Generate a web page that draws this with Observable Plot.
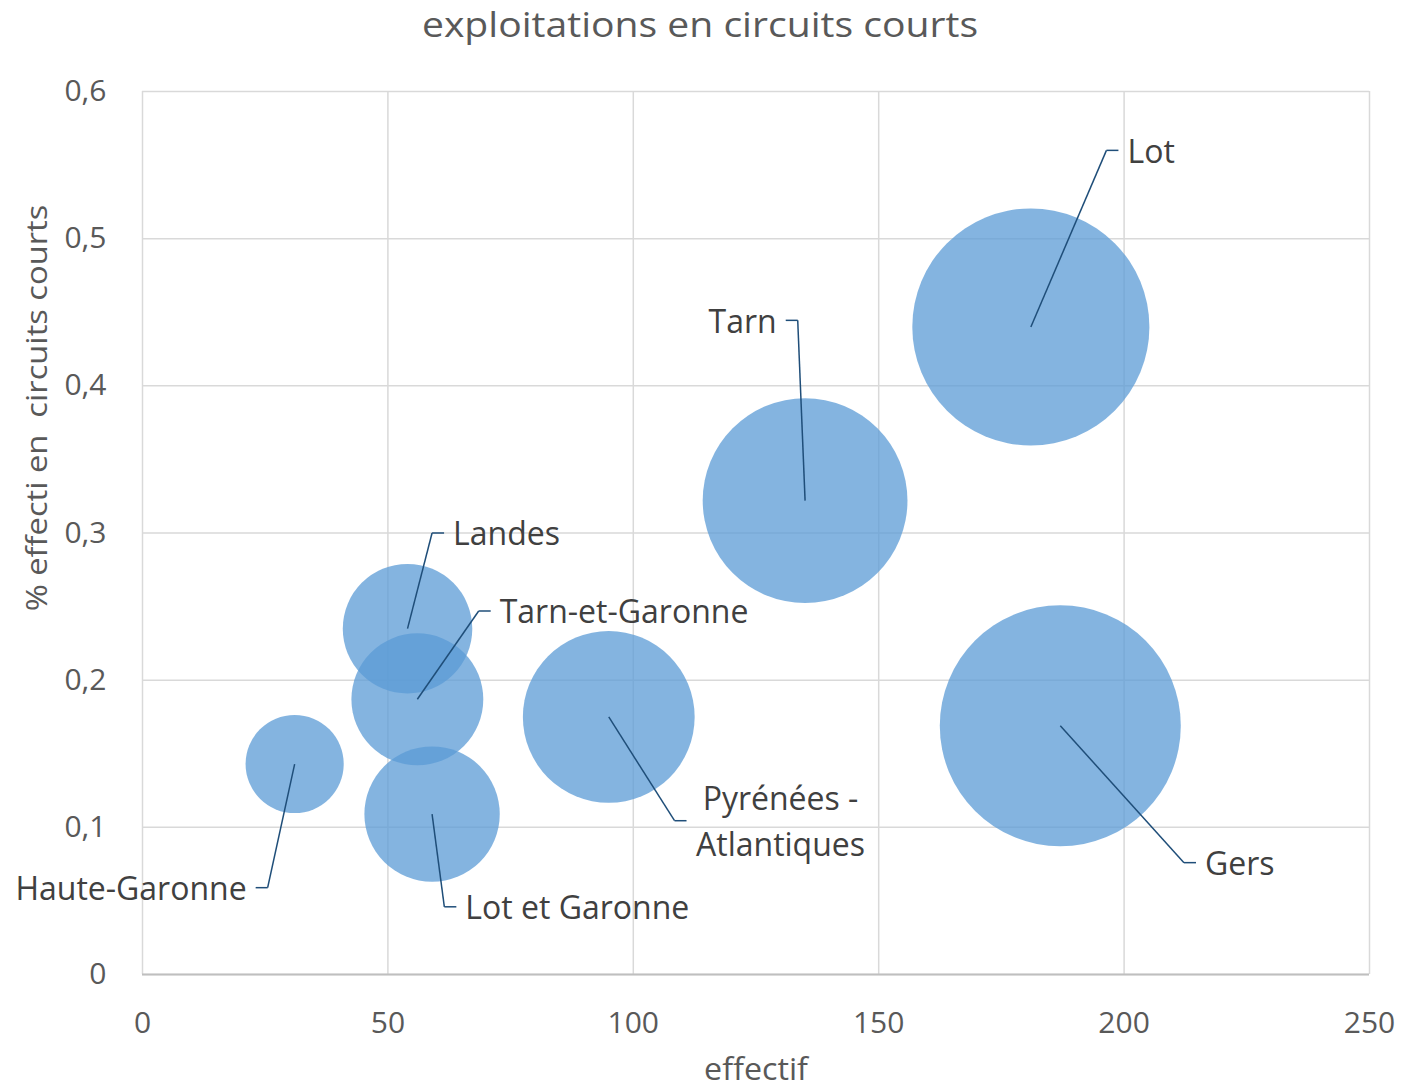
<!DOCTYPE html>
<html><head><meta charset="utf-8">
<script src="https://cdn.jsdelivr.net/npm/d3@7"></script>
<script src="https://cdn.jsdelivr.net/npm/@observablehq/plot@0.6"></script>
<style>
html,body{margin:0;padding:0;background:#fff;overflow:hidden;}
#wrap{position:relative;width:1402px;height:1091px;font-family:"Open Sans",sans-serif;overflow:hidden;}
.t{position:absolute;white-space:pre;color:#595959;}
</style></head><body>
<div id="wrap"></div>
<script>
// ---- données ----
const titre = "exploitations en circuits courts";
const titreX = "effectif";
const titreY = "% effecti en  circuits courts";
const departements = ["Haute-Garonne", "Landes", "Tarn-et-Garonne", "Lot et Garonne", "Pyrénées -\nAtlantiques", "Tarn", "Lot", "Gers"];
const effectif = [31, 54, 56, 59, 95, 135, 181, 187];
const partCircuitsCourts = [0.143, 0.235, 0.187, 0.109, 0.175, 0.322, 0.44, 0.169];
// coin de la ligne de rappel de chaque étiquette (unités des données)
const etiquetteX = [25.5, 59.0, 68.5, 61.5, 108.4, 133.5, 196.4, 212.2];
const etiquetteY = [0.059, 0.300, 0.247, 0.046, 0.1045, 0.4445, 0.560, 0.076];
const etiquetteAncrage = ["end", "start", "start", "start", "middle", "end", "start", "start"];
const xTicks = [0, 50, 100, 150, 200, 250];
const yTicks = [0, 0.1, 0.2, 0.3, 0.4, 0.5, 0.6];

const data = departements.map((nom, i) => ({
  nom, effectif: effectif[i], part: partCircuitsCourts[i],
  lx: etiquetteX[i], ly: etiquetteY[i], ancrage: etiquetteAncrage[i],
  sens: etiquetteAncrage[i] === "end" ? -1 : 1
}));

const W = 1402, H = 1091, mL = 142, mR = 33, mT = 91, mB = 117;
const tickLen = 12 * (xTicks[xTicks.length - 1] - xTicks[0]) / (W - mL - mR);
const finTrait = d => d.lx + d.sens * tickLen;
const lead = {stroke: "#1f4e79", strokeWidth: 1.5};
const lab = {y: "ly", text: "nom", fontSize: 32, fill: "#404040", fontFamily: "Open Sans", lineHeight: 1.44, dy: -2.5};

const chart = Plot.plot({
  width: W, height: H,
  marginTop: mT, marginBottom: mB, marginLeft: mL, marginRight: mR,
  x: {domain: [0, 250]},
  y: {domain: [0, 0.6]},
  r: {type: "sqrt", domain: [0, 187], range: [0, 120.5]},
  style: {fontFamily: "Open Sans", fontSize: "30px", color: "#595959", background: "#fff"},
  marks: [
    Plot.gridX(xTicks, {stroke: "#d9d9d9", strokeOpacity: 1, strokeWidth: 1.5}),
    Plot.gridY(yTicks, {stroke: "#d9d9d9", strokeOpacity: 1, strokeWidth: 1.5}),
    Plot.ruleY([0], {stroke: "#bfbfbf", strokeWidth: 2}),
    Plot.axisX({ticks: xTicks, tickSize: 0, tickPadding: 37, label: null, fontSize: 30}),
    Plot.axisY({ticks: yTicks, tickSize: 0, tickPadding: 36, label: null, fontSize: 30,
      tickFormat: d => String(d).replace(".", ",")}),
    Plot.dot(data, {x: "effectif", y: "part", r: "effectif", fill: "#5b9bd5", fillOpacity: 0.75, stroke: "none"}),
    Plot.link(data, {x1: "effectif", y1: "part", x2: "lx", y2: "ly", ...lead}),
    Plot.link(data, {x1: "lx", y1: "ly", x2: finTrait, y2: "ly", ...lead}),
    Plot.text(data.filter(d => d.ancrage === "start"), {x: finTrait, textAnchor: "start", dx: 9, ...lab}),
    Plot.text(data.filter(d => d.ancrage === "end"), {x: finTrait, textAnchor: "end", dx: -9, ...lab}),
    Plot.text(data.filter(d => d.ancrage === "middle"), {x: finTrait, textAnchor: "middle", dx: 94, ...lab})
  ]
});

const wrap = document.getElementById("wrap");
wrap.appendChild(chart);
function addText(txt, css) {
  const d = document.createElement("div");
  d.className = "t";
  d.textContent = txt;
  Object.assign(d.style, css);
  wrap.appendChild(d);
}
addText(titre, {left: "700px", top: "4px", fontSize: "34px", lineHeight: "40px", transform: "translateX(-50%) scaleX(1.15)"});
addText(titreX, {left: "756px", top: "1056px", fontSize: "31px", lineHeight: "24px", transform: "translateX(-50%) scaleX(1.04)"});
addText(titreY, {left: "36px", top: "408px", fontSize: "30px", lineHeight: "30px", transform: "translate(-50%,-50%) rotate(-90deg) scaleX(1.09)"});
</script>
</body></html>
